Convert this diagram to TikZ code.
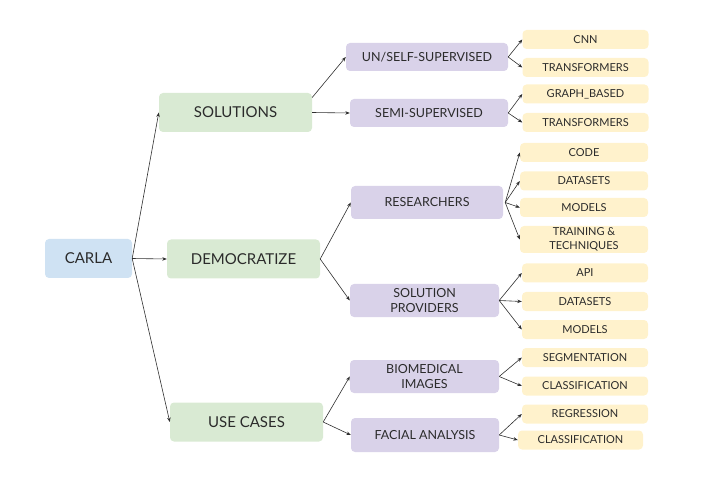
\documentclass[tikz,border=0pt]{standalone}
\usepackage{fontspec}
\setmainfont{Lato}
\usetikzlibrary{arrows.meta}
\definecolor{cblue}{HTML}{CFE2F3}
\definecolor{cgreen}{HTML}{D9EAD3}
\definecolor{cpurple}{HTML}{D9D2E9}
\definecolor{cyellow}{HTML}{FFF2CC}
\definecolor{ctext}{HTML}{2B2B2B}
\definecolor{cline}{HTML}{2E2E2E}
\tikzset{
  base/.style={rounded corners=4pt, inner sep=0pt, align=center, text=ctext},
  root/.style={base, fill=cblue, minimum width=87pt, minimum height=39pt, font=\fontsize{15}{18}\selectfont},
  lvlone/.style={base, fill=cgreen, minimum width=153pt, minimum height=39pt, font=\fontsize{15}{18}\selectfont},
  lvltwo/.style={base, fill=cpurple, font=\fontsize{12.5}{15}\selectfont},
  leaf/.style={base, fill=cyellow, minimum width=126pt, minimum height=19pt, font=\fontsize{11}{14}\selectfont},
  conn/.style={draw=cline, line width=0.6pt, -{Stealth[length=4.5pt,width=3.5pt]}},
}
\begin{document}
\begin{tikzpicture}[x=1pt,y=-1pt]
\useasboundingbox (0,0) rectangle (720,478);
% level 0 and 1
\node[root] (carla) at (88.5,258.5) {CARLA};
\node[lvlone] (sol) at (235.5,112.5) {SOLUTIONS};
\node[lvlone] (dem) at (243.5,259) {DEMOCRATIZE};
\node[lvlone] (use) at (246.5,422) {USE CASES};
% level 2
\node[lvltwo, minimum width=162pt, minimum height=28pt] (unself) at (427,57) {UN/SELF-SUPERVISED};
\node[lvltwo, minimum width=158pt, minimum height=28pt] (semi) at (429,113) {SEMI-SUPERVISED};
\node[lvltwo, minimum width=152pt, minimum height=33pt] (res) at (427,202.5) {RESEARCHERS};
\node[lvltwo, minimum width=149pt, minimum height=33pt] (prov) at (424.5,300.5) {SOLUTION\\PROVIDERS};
\node[lvltwo, minimum width=149pt, minimum height=33pt] (bio) at (424.5,376.5) {BIOMEDICAL\\IMAGES};
\node[lvltwo, minimum width=148pt, minimum height=34pt] (fac) at (425,435) {FACIAL ANALYSIS};
% leaves
\node[leaf] (cnn) at (585.5,39.5) {CNN};
\node[leaf] (trone) at (585.5,67.5) {TRANSFORMERS};
\node[leaf] (graph) at (585.5,94) {GRAPH\_BASED};
\node[leaf] (trtwo) at (585.5,122.5) {TRANSFORMERS};
\node[leaf, minimum width=128pt] (code) at (584,152.5) {CODE};
\node[leaf, minimum width=128pt] (dsone) at (584,181) {DATASETS};
\node[leaf, minimum width=128pt] (mdone) at (584,207.5) {MODELS};
\node[leaf, minimum width=128pt, minimum height=27pt] (train) at (584,239.5) {TRAINING \&\\TECHNIQUES};
\node[leaf] (api) at (585,273) {API};
\node[leaf] (dstwo) at (585,301.5) {DATASETS};
\node[leaf] (mdtwo) at (585,329.5) {MODELS};
\node[leaf] (seg) at (585,357.5) {SEGMENTATION};
\node[leaf] (clone) at (585,386) {CLASSIFICATION};
\node[leaf] (reg) at (585,414) {REGRESSION};
\node[leaf, minimum width=125pt] (cltwo) at (580.5,440) {CLASSIFICATION};
% connectors
\draw[conn] (carla.east) -- (sol.west);
\draw[conn] (carla.east) -- (dem.west);
\draw[conn] (carla.east) -- (use.west);
\draw[conn] ([yshift=15pt]sol.east) -- (unself.west);
\draw[conn] (sol.east) -- (semi.west);
\draw[conn] (dem.east) -- (res.west);
\draw[conn] (dem.east) -- (prov.west);
\draw[conn] (use.east) -- (bio.west);
\draw[conn] (use.east) -- (fac.west);
\draw[conn] (unself.east) -- (cnn.west);
\draw[conn] (unself.east) -- (trone.west);
\draw[conn] (semi.east) -- (graph.west);
\draw[conn] (semi.east) -- (trtwo.west);
\draw[conn] ([xshift=2pt]res.east) -- (code.west);
\draw[conn] ([xshift=2pt]res.east) -- (dsone.west);
\draw[conn] ([xshift=2pt]res.east) -- (mdone.west);
\draw[conn] ([xshift=2pt]res.east) -- (train.west);
\draw[conn] (prov.east) -- (api.west);
\draw[conn] (prov.east) -- (dstwo.west);
\draw[conn] (prov.east) -- (mdtwo.west);
\draw[conn] (bio.east) -- (seg.west);
\draw[conn] (bio.east) -- (clone.west);
\draw[conn] (fac.east) -- (reg.west);
\draw[conn] (fac.east) -- (cltwo.west);
\end{tikzpicture}
\end{document}
